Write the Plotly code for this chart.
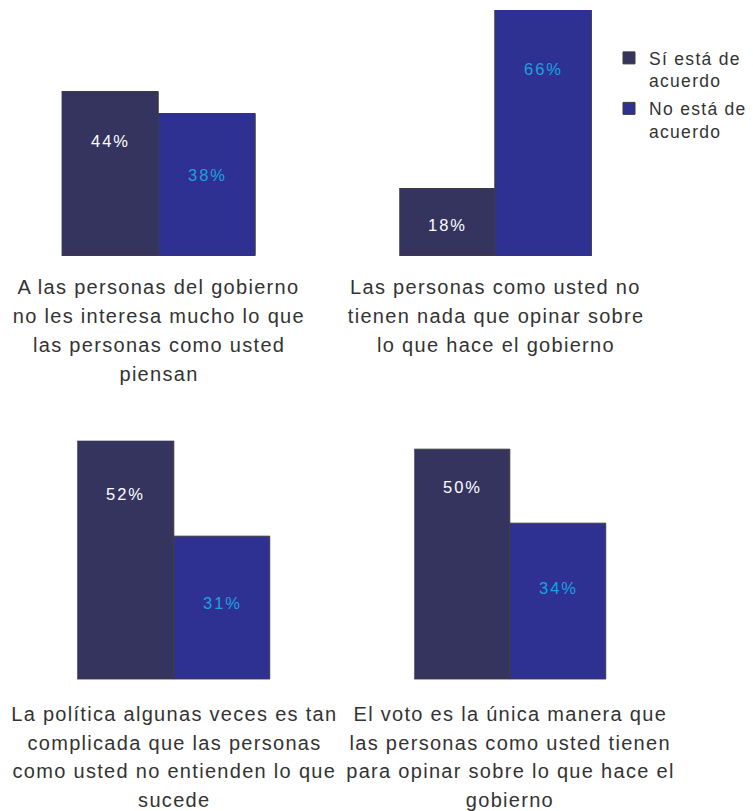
import plotly.graph_objects as go

# ---- data ----
series_names = ["Sí está de<br>acuerdo", "No está de<br>acuerdo"]
categories = ["Sí está de acuerdo", "No está de acuerdo"]
si_values = [44, 18, 52, 50]
no_values = [38, 66, 31, 34]
panel_titles = [
    ["A las personas del gobierno", "no les interesa mucho lo que", "las personas como usted", "piensan"],
    ["Las personas como usted no", "tienen nada que opinar sobre", "lo que hace el gobierno"],
    ["La política algunas veces es tan", "complicada que las personas", "como usted no entienden lo que", "sucede"],
    ["El voto es la única manera que", "las personas como usted tienen", "para opinar sobre lo que hace el", "gobierno"],
]

# ---- layout / style ----
W, H = 753, 811
colors = ["#34345f", "#2e3191"]
label_colors = ["#ffffff", "#1ba1e2"]
# label vertical position as fraction of bar height
si_label_frac = [0.703, 0.462, 0.778, 0.838]
no_label_frac = [0.572, 0.761, 0.534, 0.588]
# panel pixel boxes: (left, right, top, bottom) and y max
panels = [
    (61.7, 256.0, 10.0, 256.0, 66),
    (399.3, 592.0, 10.0, 256.0, 66),
    (77.3, 270.7, 440.7, 679.5, 52),
    (414.3, 606.7, 440.7, 679.5, 52),
]
title_first_line = [287.4, 287.4, 714.0, 714.0]
line_step = 28.7

fig = go.Figure()
annotations = []
for i, (l, r, t, b, ymax) in enumerate(panels):
    xa = "x" if i == 0 else f"x{i+1}"
    ya = "y" if i == 0 else f"y{i+1}"
    for s, vals in enumerate([si_values, no_values]):
        fig.add_trace(go.Bar(
            x=[categories[s]], y=[vals[i]],
            name=series_names[s], legendgroup=f"s{s}", showlegend=(i == 0),
            marker=dict(color=colors[s], line=dict(color="#3c3c3c", width=1)),
            xaxis=xa, yaxis=ya, cliponaxis=False, hoverinfo="skip",
        ))
    for s, (vals, fr) in enumerate([(si_values, si_label_frac), (no_values, no_label_frac)]):
        annotations.append(dict(
            x=categories[s], y=vals[i] * fr[i], xref=xa, yref=ya,
            text=f"{vals[i]}%", showarrow=False, xanchor="center", yanchor="middle",
            font=dict(family="Liberation Sans, Arial, sans-serif", size=16.5, color=label_colors[s]),
        ))
    cx = (l + r) / 2 / W
    for k, line in enumerate(panel_titles[i]):
        yc = title_first_line[i] + k * line_step
        annotations.append(dict(
            x=cx, y=1 - yc / H, xref="paper", yref="paper",
            text=line, showarrow=False, xanchor="center", yanchor="middle",
            font=dict(family="Liberation Sans, Arial, sans-serif", size=20, color="#333333"),
        ))
    axx = dict(domain=[l / W, r / W], range=[-0.5, 1.5], visible=False,
               categoryorder="array", categoryarray=categories, fixedrange=True)
    axy = dict(domain=[1 - b / H, 1 - t / H], range=[0, ymax], visible=False, fixedrange=True)
    if i > 0:
        axx["anchor"] = ya
        axy["anchor"] = xa
    fig.update_layout(**{("xaxis" if i == 0 else f"xaxis{i+1}"): axx,
                         ("yaxis" if i == 0 else f"yaxis{i+1}"): axy})

fig.update_layout(
    width=W, height=H, autosize=False,
    margin=dict(l=0, r=0, t=0, b=0),
    paper_bgcolor="white", plot_bgcolor="white",
    barmode="overlay", bargap=0,
    annotations=annotations,
    showlegend=True,
    legend=dict(x=609 / W, y=1 - 40 / H, xanchor="left", yanchor="top",
                valign="top", bgcolor="rgba(0,0,0,0)",
                font=dict(family="Liberation Sans, Arial, sans-serif", size=17.5, color="#333333"),
                tracegroupgap=2),
    font=dict(family="Liberation Sans, Arial, sans-serif"),
)

js = """
document.body.style.margin = '0';
document.body.style.padding = '0';
var gd = document.getElementById('{plot_id}');
function applySpacing(){
  gd.querySelectorAll('.annotation-text').forEach(function(t){
    var fs = parseFloat(t.style.fontSize);
    t.style.letterSpacing = (fs >= 19 ? '1.3px' : '2px');
  });
  gd.querySelectorAll('.legendtext').forEach(function(t){ t.style.letterSpacing = '1.3px'; });
  gd.querySelectorAll('.legend .scrollbox, .legend').forEach(function(el){ el.removeAttribute('clip-path'); });
}
applySpacing();
if (gd.on) { gd.on('plotly_afterplot', applySpacing); }
setTimeout(applySpacing, 0);
"""

fig.write_html("out.html", post_script=js, config={"displayModeBar": False})
